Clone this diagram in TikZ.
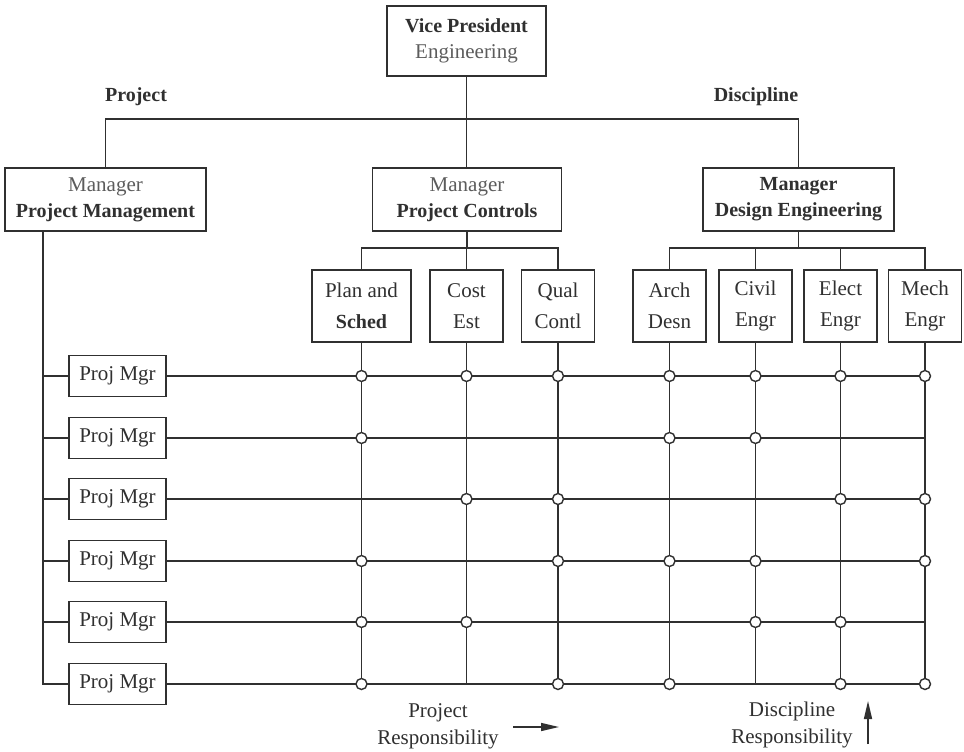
\documentclass[tikz,border=0pt]{standalone}
\usepackage{fontspec}
\setmainfont{Liberation Serif}
\usetikzlibrary{arrows.meta}
\definecolor{ink}{HTML}{303030}
\definecolor{soft}{HTML}{5C5C5C}
\newcommand{\bt}[1]{{\bfseries\fontsize{20}{26}\selectfont #1}}
\begin{document}
\begin{tikzpicture}[x=1pt,y=-1pt,
  line/.style={draw=ink, line width=1.6pt},
  box/.style={draw=ink, line width=1.6pt, fill=white, inner sep=0pt,
    align=center, text=ink, font=\fontsize{21}{26}\selectfont},
  bigbox/.style={box, minimum height=63pt},
  unitbox/.style={box, minimum width=73pt, minimum height=72pt,
    font=\fontsize{21}{31}\selectfont},
  pmbox/.style={box, minimum width=97pt, minimum height=41pt},
  dot/.style={circle, draw=ink, fill=white, line width=1.4pt,
    minimum size=11pt, inner sep=0pt},
  lab/.style={text=ink, inner sep=0pt, align=center,
    font=\fontsize{21}{27}\selectfont},
  resparrow/.style={draw=ink, line width=1.5pt,
    -{Triangle[length=18pt,width=8pt]}}
]
\useasboundingbox[fill=white] (0,0) rectangle (964,752);

% executive and manager boxes
\node[box, minimum width=159pt, minimum height=70pt] (vp) at (466.5,41)
  {\bt{Vice President}\\{\color{soft}Engineering}};
\node[bigbox, minimum width=201pt] (pm) at (105.5,199.5)
  {{\color{soft}Manager}\\\bt{Project Management}};
\node[bigbox, minimum width=189pt] (pc) at (467,199.5)
  {{\color{soft}Manager}\\\bt{Project Controls}};
\node[bigbox, minimum width=191pt] (de) at (798.5,199.5)
  {\bt{Manager}\\\bt{Design Engineering}};

% side labels
\node[lab] (projlab) at (136,97) {\bt{Project}};
\node[lab] (disclab) at (756,97) {\bt{Discipline}};

% functional units
\node[unitbox, minimum width=99pt] (plan) at (361.5,306) {Plan and\\\bt{Sched}};
\node[unitbox] (cost)  at (466.5,306) {Cost\\Est};
\node[unitbox] (qual)  at (558,306)   {Qual\\Contl};
\node[unitbox] (arch)  at (669.5,306) {Arch\\Desn};
\node[unitbox] (civil) at (755.5,306) {Civil\\Engr};
\node[unitbox] (elect) at (840.5,306) {Elect\\Engr};
\node[unitbox] (mech)  at (925,306)   {Mech\\Engr};

% project managers
\foreach \r/\y in {1/376,2/438,3/499,4/561,5/622,6/684}
  \node[pmbox] (p\r) at (117.5,\y) {Proj Mgr};

% top tree
\coordinate (topbar) at (467,119);
\draw[line] (vp.south) -- (vp.south |- pc.north);
\draw[line] (pm.north) |- (topbar) -| (de.north);

% controls branch
\coordinate (pcbar) at (467,248);
\draw[line] (pc.south) -- (pc.south |- pcbar);
\draw[line] (plan.north) |- (pcbar) -| (qual.north);
\draw[line] (cost.north) -- (cost.north |- pcbar);

% engineering branch
\coordinate (debar) at (799,248);
\draw[line] (de.south) -- (de.south |- debar);
\draw[line] (arch.north) |- (debar) -| (mech.north);
\draw[line] (civil.north) -- (civil.north |- debar);
\draw[line] (elect.north) -- (elect.north |- debar);

% project spine
\coordinate (sp) at (43,231);
\draw[line] (sp) |- (p6.west);
\foreach \r in {1,...,5}
  \draw[line] (p\r.west) -- (p\r.west -| sp);

% matrix grid
\foreach \n in {plan,cost,qual,arch,civil,elect,mech}
  \draw[line] (\n.south) -- (\n.south |- p6);
\foreach \r in {1,...,6}
  \draw[line] (p\r.east) -- (p\r -| mech);

% assignments (row/unit)
\foreach \r/\n in {1/plan,1/cost,1/qual,1/arch,1/civil,1/elect,1/mech,
                   2/plan,2/arch,2/civil,
                   3/cost,3/qual,3/elect,3/mech,
                   4/plan,4/qual,4/arch,4/civil,4/mech,
                   5/plan,5/cost,5/civil,5/elect,
                   6/plan,6/qual,6/arch,6/elect,6/mech}
  \node[dot] (c-\r-\n) at (p\r -| \n) {};

% responsibility legends
\node[lab] (presp) at (438,726.5) {Project\\Responsibility};
\coordinate (pa0) at (513,727);
\coordinate (pa1) at (559,727);
\draw[resparrow] (pa0) -- (pa1);

\node[lab] (dresp) at (792,725) {Discipline\\Responsibility};
\coordinate (da0) at (868,744);
\coordinate (da1) at (868,701);
\draw[resparrow] (da0) -- (da1);
\end{tikzpicture}
\end{document}
